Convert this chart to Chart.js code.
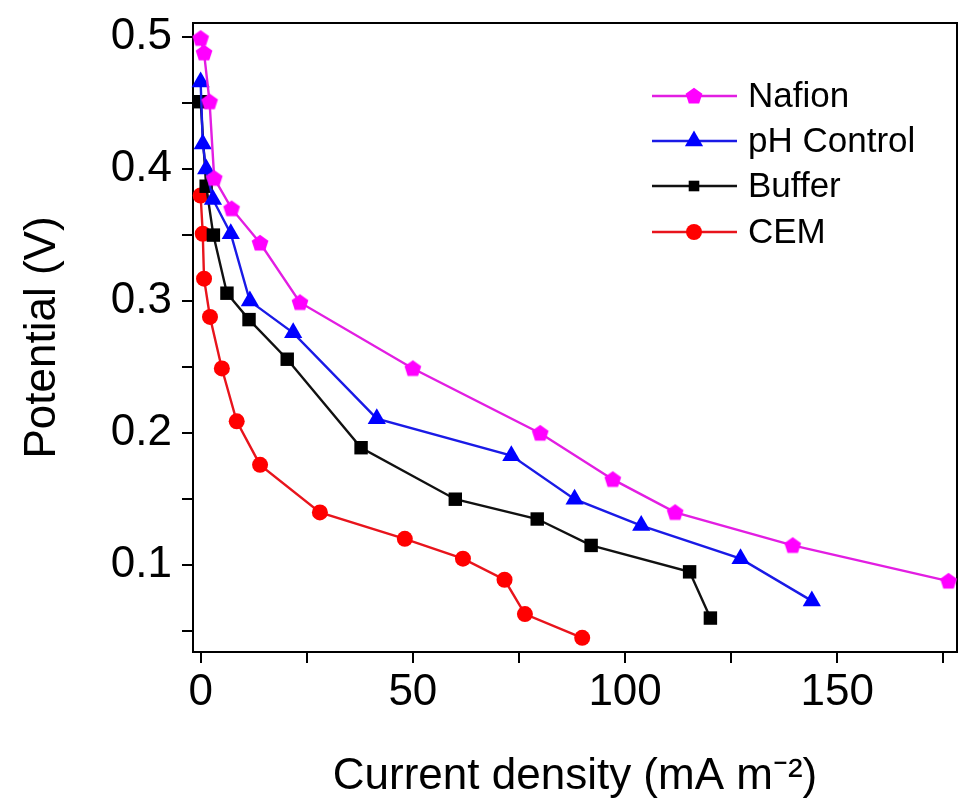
<!DOCTYPE html>
<html lang="en">
<head>
    <meta charset="UTF-8">
    <title>Potential vs current density</title>
    <script src="https://cdn.jsdelivr.net/npm/chart.js"></script>
    <style>
        html, body {
            margin: 0;
            padding: 0;
            background: #fff;
        }
        #wrap {
            width: 958px;
            height: 806px;
        }
    </style>
</head>
<body>
    <div id="wrap">
        <canvas id="polChart" width="958" height="806"></canvas>
    </div>
    <script>
        // values
        const seriesNames = ['Nafion', 'pH Control', 'Buffer', 'CEM'];

        const nafionCurrent = [0, 0.8, 2.1, 3.2, 7.3, 14.0, 23.4, 50.0, 80.0, 97.1, 111.8, 139.5, 176.2];
        const nafionPotential = [0.499, 0.488, 0.451, 0.393, 0.370, 0.344, 0.299, 0.249, 0.200, 0.165, 0.140, 0.115, 0.088];

        const phCurrent = [0, 0.5, 1.3, 2.9, 7.1, 11.6, 21.8, 41.5, 73.2, 88.1, 103.8, 127.2, 144.0];
        const phPotential = [0.466, 0.419, 0.400, 0.377, 0.351, 0.300, 0.276, 0.211, 0.183, 0.150, 0.130, 0.105, 0.073];

        const bufferCurrent = [0, 1.3, 3.0, 6.2, 11.4, 20.4, 37.8, 60.0, 79.3, 92.0, 115.2, 120.1];
        const bufferPotential = [0.451, 0.387, 0.350, 0.306, 0.286, 0.256, 0.189, 0.150, 0.135, 0.115, 0.095, 0.060];

        const cemCurrent = [0, 0.5, 0.8, 2.2, 5.0, 8.5, 14.0, 28.1, 48.1, 61.8, 71.6, 76.4, 89.9];
        const cemPotential = [0.380, 0.351, 0.317, 0.288, 0.249, 0.209, 0.176, 0.140, 0.120, 0.105, 0.089, 0.063, 0.045];

        const xTicks = [0, 25, 50, 75, 100, 125, 150, 175];
        const xLabelled = [0, 50, 100, 150];
        const yTicks = [0.05, 0.1, 0.15, 0.2, 0.25, 0.3, 0.35, 0.4, 0.45, 0.5];
        const yLabelled = [0.1, 0.2, 0.3, 0.4, 0.5];

        const FONT = '"Liberation Sans", Arial, sans-serif';

        function toPoints(xs, ys) {
            return xs.map((x, i) => ({ x: x, y: ys[i] }));
        }

        // chart.js has no pentagon, so make one as an image
        function makePentagon(r, color) {
            const s = Math.ceil(r * 2) + 2;
            const c = document.createElement('canvas');
            c.width = s;
            c.height = s;
            const g = c.getContext('2d');
            g.fillStyle = color;
            g.beginPath();
            for (let i = 0; i < 5; i++) {
                const a = -Math.PI / 2 + i * 2 * Math.PI / 5;
                g.lineTo(s / 2 + r * Math.cos(a), s / 2 + r * Math.sin(a) + 0.5);
            }
            g.closePath();
            g.fill();
            return c;
        }
        const pentagon = makePentagon(8.8, '#ff00ff');

        const datasets = [
            {
                label: seriesNames[0],
                data: toPoints(nafionCurrent, nafionPotential),
                borderColor: '#e21ee2',
                backgroundColor: '#ff00ff',
                pointStyle: pentagon,
                pointRadius: 9
            },
            {
                label: seriesNames[1],
                data: toPoints(phCurrent, phPotential),
                borderColor: '#1a1ae6',
                backgroundColor: '#0000ff',
                pointStyle: 'triangle',
                pointRadius: 10.5
            },
            {
                label: seriesNames[2],
                data: toPoints(bufferCurrent, bufferPotential),
                borderColor: '#111',
                backgroundColor: '#000',
                pointStyle: 'rect',
                pointRadius: 9.5
            },
            {
                label: seriesNames[3],
                data: toPoints(cemCurrent, cemPotential),
                borderColor: '#e8141c',
                backgroundColor: '#ff0000',
                pointStyle: 'circle',
                pointRadius: 8
            }
        ].map(d => Object.assign(d, {
            showLine: true,
            borderWidth: 2.4,
            pointBorderWidth: 0,
            pointBackgroundColor: d.backgroundColor,
            pointBorderColor: d.backgroundColor,
            tension: 0,
            clip: false
        }));

        // legend sits inside the plot, top right, one entry per row
        const insideLegend = {
            id: 'insideLegend',
            afterDraw(chart) {
                const ctx = chart.ctx;
                const rows = [96, 141, 186, 232];
                ctx.save();
                chart.data.datasets.forEach((ds, i) => {
                    const y = rows[i];
                    ctx.strokeStyle = ds.borderColor;
                    ctx.lineWidth = 2.4;
                    ctx.beginPath();
                    ctx.moveTo(652, y);
                    ctx.lineTo(737, y);
                    ctx.stroke();
                    ctx.fillStyle = ds.backgroundColor;
                    Chart.helpers.drawPoint(ctx, {
                        pointStyle: ds.pointStyle,
                        radius: ds.pointStyle === 'rect' ? 7.5 : ds.pointRadius,
                        rotation: 0,
                        borderWidth: 0
                    }, 694, y);
                    ctx.fillStyle = '#000';
                    ctx.font = '35px ' + FONT;
                    ctx.textBaseline = 'middle';
                    ctx.textAlign = 'left';
                    ctx.fillText(ds.label, 748, y + 1);
                });
                ctx.restore();
            }
        };

        const axisGrid = {
            drawOnChartArea: false,
            drawTicks: true,
            tickLength: 11,
            tickWidth: 2,
            tickColor: '#000',
            color: '#000',
            lineWidth: 2
        };

        // fixed axis box sizes so the plot area matches the figure
        function fixBox(size, isX) {
            return axis => {
                if (isX) axis.height = size; else axis.width = size;
                axis.paddingTop = 0;
                axis.paddingBottom = 0;
                axis.paddingLeft = 0;
                axis.paddingRight = 0;
            };
        }

        new Chart(document.getElementById('polChart'), {
            type: 'scatter',
            data: { datasets: datasets },
            options: {
                responsive: false,
                animation: false,
                layout: {
                    autoPadding: false, // otherwise point radius eats the right edge
                    padding: { top: 23, right: 1, left: 0, bottom: 0 }
                },
                plugins: {
                    legend: { display: false },
                    tooltip: { enabled: false }
                },
                scales: {
                    x: {
                        type: 'linear',
                        position: 'bottom',
                        min: -1.8,
                        max: 178.2,
                        afterBuildTicks: axis => { axis.ticks = xTicks.map(v => ({ value: v })); },
                        afterFit: fixBox(154, true),
                        grid: axisGrid,
                        border: { display: true, color: '#000', width: 2 },
                        ticks: {
                            color: '#000',
                            padding: 3,
                            maxRotation: 0,
                            autoSkip: false,
                            font: { family: FONT, size: 44 },
                            callback: v => xLabelled.includes(v) ? String(v) : ''
                        },
                        title: {
                            display: true,
                            text: 'Current density (mA m⁻²)',
                            color: '#000',
                            font: { family: FONT, size: 44 },
                            padding: { top: 0, bottom: 3 }
                        }
                    },
                    y: {
                        type: 'linear',
                        position: 'left',
                        min: 0.0343,
                        max: 0.5106,
                        afterBuildTicks: axis => { axis.ticks = yTicks.map(v => ({ value: v })); },
                        afterFit: fixBox(193, false),
                        grid: axisGrid,
                        border: { display: true, color: '#000', width: 2 },
                        ticks: {
                            color: '#000',
                            padding: 10,
                            autoSkip: false,
                            font: { family: FONT, size: 44 },
                            callback: v => yLabelled.some(t => Math.abs(t - v) < 1e-9) ? v.toFixed(1) : ''
                        },
                        title: {
                            display: true,
                            text: 'Potential (V)',
                            color: '#000',
                            font: { family: FONT, size: 44 },
                            padding: { top: 16, bottom: 0 }
                        }
                    },
                    // top and right edges of the frame
                    xTop: {
                        position: 'top',
                        display: true,
                        afterFit: fixBox(0, true),
                        grid: { display: false, drawTicks: false },
                        ticks: { display: false },
                        border: { display: true, color: '#000', width: 2 }
                    },
                    yRight: {
                        position: 'right',
                        display: true,
                        afterFit: fixBox(0, false),
                        grid: { display: false, drawTicks: false },
                        ticks: { display: false },
                        border: { display: true, color: '#000', width: 2 }
                    }
                }
            },
            plugins: [insideLegend]
        });
    </script>
</body>
</html>
